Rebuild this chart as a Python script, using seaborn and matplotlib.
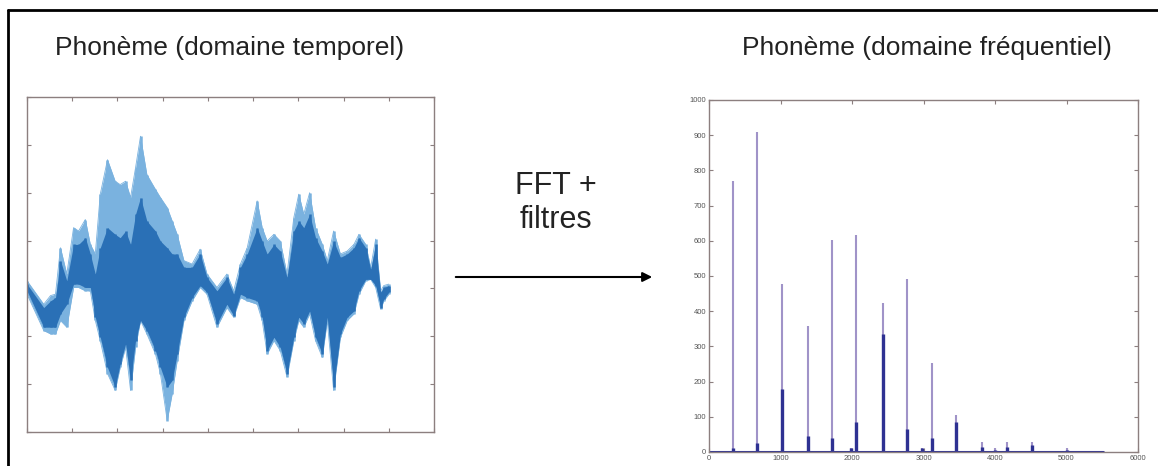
import matplotlib.pyplot as plt
import numpy as np
import pandas as pd
import seaborn as sns
from matplotlib.lines import Line2D
from matplotlib.patches import FancyArrowPatch

sns.set_theme(style='white')
plt.rcParams['font.family'] = ['Liberation Sans', 'DejaVu Sans']

# time-domain waveform, read as envelopes (outer = light, inner = dark)
t = [0.00, 0.37, 0.52, 0.63, 0.74, 0.88, 1.03, 1.14, 1.29, 1.40, 1.51, 1.62,
     1.78, 1.95, 2.06, 2.18, 2.29, 2.40, 2.51, 2.65, 2.84, 2.95, 3.10, 3.21,
     3.32, 3.47, 3.65, 3.83, 3.98, 4.20, 4.42, 4.57, 4.72, 4.87, 5.09, 5.20,
     5.31, 5.46, 5.60, 5.75, 5.90, 6.01, 6.12, 6.25, 6.38, 6.53, 6.64, 6.78,
     6.93, 7.08, 7.23, 7.34, 7.49, 7.60, 7.71, 7.82, 7.89, 8.00]
outer_hi = [0.016, -0.033, -0.015, -0.012, 0.085, 0.030, 0.127, 0.120, 0.144, 0.092,
            0.072, 0.197, 0.269, 0.224, 0.217, 0.224, 0.190, 0.252, 0.318, 0.238,
            0.207, 0.190, 0.169, 0.141, 0.113, 0.058, 0.051, 0.082, 0.030, 0.002,
            0.030, -0.005, 0.051, 0.085, 0.183, 0.127, 0.099, 0.113, 0.099, 0.030,
            0.148, 0.197, 0.155, 0.200, 0.127, 0.092, 0.058, 0.120, 0.072, 0.078,
            0.092, 0.113, 0.092, 0.044, 0.103, -0.005, 0.006, 0.009]
outer_lo = [-0.012, -0.088, -0.095, -0.095, -0.067, -0.081, 0.002, 0.002, -0.005, -0.005,
            -0.067, -0.109, -0.178, -0.213, -0.165, -0.123, -0.213, -0.123, -0.067, -0.095,
            -0.137, -0.178, -0.276, -0.220, -0.151, -0.067, -0.026, 0.002, -0.012, -0.081,
            -0.040, -0.060, -0.019, -0.026, -0.033, -0.067, -0.137, -0.109, -0.130, -0.185,
            -0.109, -0.067, -0.081, -0.053, -0.109, -0.144, -0.067, -0.213, -0.102, -0.067,
            -0.053, -0.012, 0.016, 0.019, 0.002, -0.043, -0.026, -0.012]
inner_hi = [0.009, -0.040, -0.026, -0.019, 0.058, 0.016, 0.092, 0.092, 0.106, 0.072,
            0.030, 0.085, 0.127, 0.113, 0.106, 0.120, 0.092, 0.155, 0.190, 0.141,
            0.120, 0.099, 0.085, 0.072, 0.072, 0.044, 0.044, 0.072, 0.023, -0.005,
            0.023, -0.012, 0.044, 0.072, 0.127, 0.099, 0.072, 0.092, 0.078, 0.023,
            0.120, 0.141, 0.127, 0.155, 0.106, 0.078, 0.051, 0.099, 0.065, 0.072,
            0.085, 0.106, 0.085, 0.040, 0.092, -0.008, 0.002, 0.006]
inner_lo = [-0.005, -0.081, -0.081, -0.081, -0.053, -0.033, 0.009, 0.009, 0.002, 0.002,
            -0.060, -0.102, -0.165, -0.206, -0.158, -0.116, -0.192, -0.109, -0.067, -0.088,
            -0.130, -0.165, -0.206, -0.192, -0.137, -0.060, -0.019, 0.006, -0.008, -0.074,
            -0.033, -0.057, -0.012, -0.019, -0.026, -0.060, -0.130, -0.102, -0.123, -0.178,
            -0.102, -0.060, -0.074, -0.047, -0.102, -0.137, -0.060, -0.206, -0.095, -0.060,
            -0.047, -0.005, 0.019, 0.019, 0.006, -0.040, -0.022, -0.008]

# frequency-domain spectrum: harmonic peaks
peak_freq = [336, 676, 1021, 1385, 1725, 1990, 2060, 2434, 2774, 2979, 3119,
             3459, 3818, 3995, 4172, 4517, 5000]
peak_tall = [770, 910, 478, 357, 603, 12, 617, 423, 491, 12, 254,
             106, 28, 10, 28, 28, 10]
peak_base = [12, 25, 180, 45, 40, 12, 85, 335, 65, 12, 40,
             85, 15, 5, 15, 20, 5]
spectrum_span = [0, 5510]

wave = pd.DataFrame({'t': t, 'outer_hi': outer_hi, 'outer_lo': outer_lo,
                     'inner_hi': inner_hi, 'inner_lo': inner_lo})

light_blue = '#7ab2df'
dark_blue = '#2a70b6'
frame = '#8c7f7f'

fig = plt.figure(figsize=(11.58, 4.66), dpi=100)
fig.patch.set_facecolor('white')

# outer black frame (open at right and bottom)
fig.add_artist(Line2D([8 / 1158, 8 / 1158], [0, 1 - 10 / 466], color='black', lw=2))
fig.add_artist(Line2D([8 / 1158, 1], [1 - 10 / 466, 1 - 10 / 466], color='black', lw=2))


def style_axes(ax):
    for s in ax.spines.values():
        s.set_color(frame)
        s.set_linewidth(1.0)
    ax.tick_params(which='both', direction='in', length=3, width=0.8, color=frame,
                   top=True, right=True, bottom=True, left=True)


# left: time domain
ax1 = fig.add_axes([27 / 1158, 1 - 432 / 466, 407 / 1158, 335 / 466])
ax1.fill_between(wave['t'], wave['outer_lo'], wave['outer_hi'], color=light_blue,
                 lw=0, zorder=1)
ax1.vlines(wave['t'], wave['outer_lo'], wave['outer_hi'], color=light_blue, lw=1.8,
           zorder=1.5)
sns.lineplot(data=wave, x='t', y='outer_hi', ax=ax1, color=light_blue, lw=0.6, zorder=1.5)
sns.lineplot(data=wave, x='t', y='outer_lo', ax=ax1, color=light_blue, lw=0.6, zorder=1.5)
ax1.fill_between(wave['t'], wave['inner_lo'], wave['inner_hi'], color=dark_blue,
                 lw=0, zorder=2)
ax1.vlines(wave['t'], wave['inner_lo'], wave['inner_hi'], color=dark_blue, lw=1.8,
           zorder=2.5)
ax1.set_xlim(0, 9)
ax1.set_ylim(-0.3, 0.4)
ax1.set_xticks(np.arange(0, 10))
ax1.set_yticks(np.arange(-0.3, 0.41, 0.1))
ax1.set_xticklabels([])
ax1.set_yticklabels([])
ax1.set_xlabel('')
ax1.set_ylabel('')
style_axes(ax1)

# right: frequency domain
ax2 = fig.add_axes([709 / 1158, 1 - 452 / 466, 429 / 1158, 352 / 466])
ax2.vlines(peak_freq, 0, peak_tall, color='#a093c8', lw=1.5)
ax2.vlines(peak_freq, 0, peak_base, color='#2e3192', lw=2.4)
sns.lineplot(x=spectrum_span, y=[0, 0], ax=ax2, color='#2e3192', lw=2.2)
ax2.set_xlim(0, 6000)
ax2.set_ylim(0, 1000)
ax2.set_xticks(np.arange(0, 6001, 1000))
ax2.set_yticks(np.arange(0, 1001, 100))
ax2.tick_params(labelsize=5.5, labelcolor='#555555', pad=2)
style_axes(ax2)

fig.text(230 / 1158, 1 - 48 / 466, 'Phonème (domaine temporel)', ha='center', va='center',
         fontsize=19, color='#222222')
fig.text(927 / 1158, 1 - 48 / 466, 'Phonème (domaine fréquentiel)', ha='center', va='center',
         fontsize=19, color='#222222')
fig.text(556 / 1158, 1 - 203 / 466, 'FFT +\nfiltres', ha='center', va='center',
         fontsize=22, color='#222222', linespacing=1.15)
fig.add_artist(FancyArrowPatch(
    (453 / 1158, 1 - 277 / 466), (655 / 1158, 1 - 277 / 466),
    transform=fig.transFigure, arrowstyle='-|>', mutation_scale=14, color='black', lw=1.5))

fig.savefig('out.png', dpi=100)
